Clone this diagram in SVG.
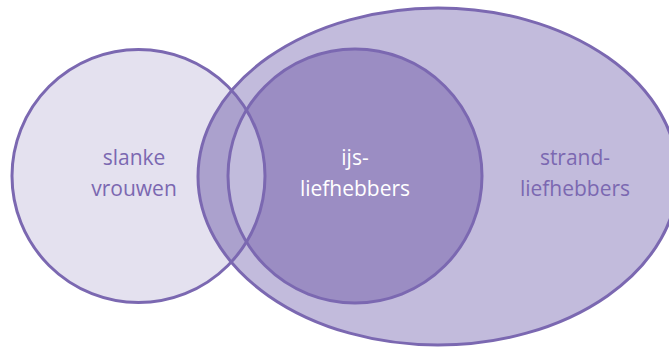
<svg xmlns="http://www.w3.org/2000/svg" width="669" height="349" viewBox="0 0 669 349">
<style>
.stk{fill:none;stroke:#7b68b1;stroke-width:3}
.lbl{font-family:"Open Sans","Noto Sans","DejaVu Sans",sans-serif;font-size:21px;text-anchor:middle;fill:#7b68b1}
.wh{fill:#ffffff}
</style>
<defs>
<clipPath id="clipEll"><ellipse cx="438" cy="176.5" rx="240" ry="168.5"/></clipPath>
<clipPath id="clipInner"><circle cx="355" cy="176" r="127"/></clipPath>
</defs>
<rect width="669" height="349" fill="#ffffff"/>
<g id="strand">
<ellipse cx="438" cy="176.5" rx="240" ry="168.5" fill="#c2bbdc"/>
</g>
<g id="ijs">
<circle cx="355" cy="176" r="127" fill="#9b8dc3"/>
</g>
<g id="slank">
<circle cx="138.5" cy="176" r="126.5" fill="#e4e1ef"/>
<circle cx="138.5" cy="176" r="126.5" fill="#aba1cd" clip-path="url(#clipEll)"/>
<circle cx="138.5" cy="176" r="126.5" fill="#c1bbdc" clip-path="url(#clipInner)"/>
</g>
<g id="outlines">
<ellipse class="stk" cx="438" cy="176.5" rx="240" ry="168.5"/>
<circle class="stk" cx="355" cy="176" r="127"/>
<circle class="stk" cx="138.5" cy="176" r="126.5"/>
</g>
<g id="labels">
<text class="lbl" x="134" y="165">slanke</text>
<text class="lbl" x="134" y="196">vrouwen</text>
<text class="lbl wh" x="355" y="165">ijs-</text>
<text class="lbl wh" x="355" y="196">liefhebbers</text>
<text class="lbl" x="575" y="165">strand-</text>
<text class="lbl" x="575" y="196">liefhebbers</text>
</g>
</svg>
